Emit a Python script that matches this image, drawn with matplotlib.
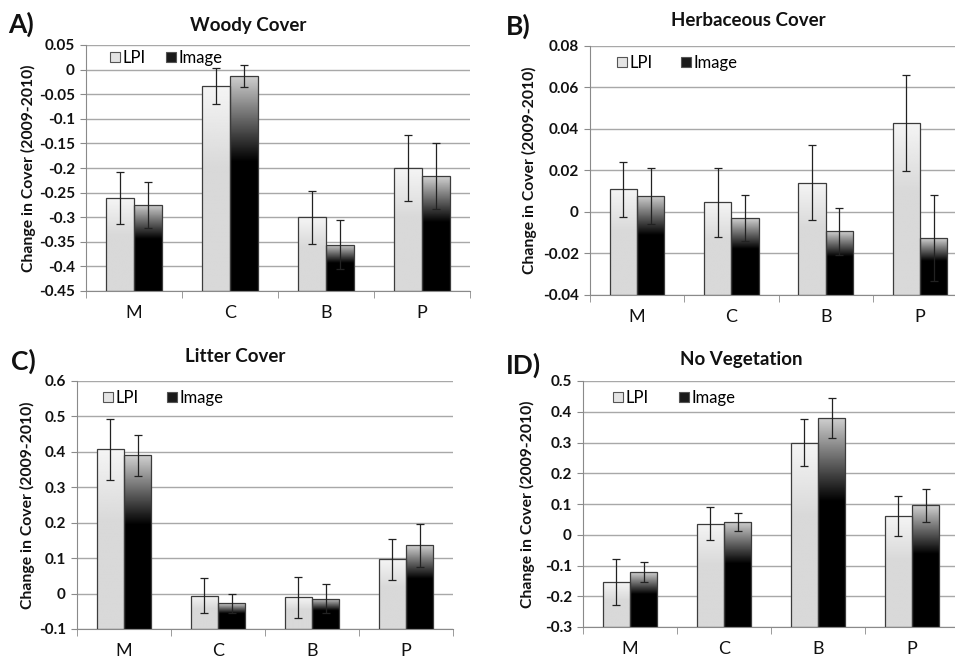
import numpy as np
import matplotlib
matplotlib.use("Agg")
import matplotlib.pyplot as plt
from matplotlib.patches import Patch

plt.rcParams['font.family'] = ['Lato', 'DejaVu Sans']

categories = ["M", "C", "B", "P"]
series_names = ["LPI", "Image"]

woody_lpi = [-0.261, -0.033, -0.300, -0.200]
woody_lpi_err = [0.053, 0.037, 0.054, 0.067]
woody_img = [-0.275, -0.013, -0.356, -0.217]
woody_img_err = [0.047, 0.022, 0.050, 0.067]

herb_lpi = [0.0109, 0.0046, 0.0141, 0.0430]
herb_lpi_err = [0.0131, 0.0166, 0.0181, 0.0231]
herb_img = [0.0078, -0.0031, -0.0092, -0.0127]
herb_img_err = [0.0135, 0.0111, 0.0113, 0.0207]

litter_lpi = [0.407, -0.006, -0.010, 0.097]
litter_lpi_err = [0.087, 0.050, 0.058, 0.058]
litter_img = [0.390, -0.027, -0.0145, 0.136]
litter_img_err = [0.0575, 0.027, 0.041, 0.0605]

nov_lpi = [-0.154, 0.0362, 0.299, 0.061]
nov_lpi_err = [0.075, 0.053, 0.077, 0.066]
nov_img = [-0.1216, 0.0427, 0.380, 0.0957]
nov_img_err = [0.0335, 0.029, 0.066, 0.053]

W, H = 955, 657

panels = [
    dict(label="A)", title="Woody Cover", lpi=woody_lpi, lpie=woody_lpi_err,
         img=woody_img, imge=woody_img_err, ylim=(-0.45, 0.05),
         ticks=["0.05", "0", "-0.05", "-0.1", "-0.15", "-0.2", "-0.25", "-0.3", "-0.35", "-0.4", "-0.45"],
         px=(86, 470, 45, 291), lab=(8, 12), title_y=25, ylab_x=36, leg_x=110, leg_y=50, colsp=1.25),
    dict(label="B)", title="Herbaceous Cover", lpi=herb_lpi, lpie=herb_lpi_err,
         img=herb_img, imge=herb_img_err, ylim=(-0.04, 0.08),
         ticks=["0.08", "0.06", "0.04", "0.02", "0", "-0.02", "-0.04"],
         px=(590, 967, 46, 295), lab=(506, 14), title_y=21, ylab_x=537, leg_x=617, leg_y=55, colsp=1.7),
    dict(label="C)", title="Litter Cover", lpi=litter_lpi, lpie=litter_lpi_err,
         img=litter_img, imge=litter_img_err, ylim=(-0.1, 0.6),
         ticks=["0.6", "0.5", "0.4", "0.3", "0.2", "0.1", "0", "-0.1"],
         px=(77, 453, 381, 629), lab=(11, 349), title_y=356, ylab_x=35, leg_x=103, leg_y=390, colsp=1.7),
    dict(label="ID)", title="No Vegetation", lpi=nov_lpi, lpie=nov_lpi_err,
         img=nov_img, imge=nov_img_err, ylim=(-0.3, 0.5),
         ticks=["0.5", "0.4", "0.3", "0.2", "0.1", "0", "-0.1", "-0.2", "-0.3"],
         px=(583, 959, 381, 627), lab=(506, 353), title_y=359, ylab_x=535, leg_x=613, leg_y=390, colsp=1.8),
]

fig = plt.figure(figsize=(W / 100, H / 100), dpi=100)


def gradient_column(kind):
    t = np.linspace(0, 1, 256)  # bottom -> top
    if kind == "lpi":
        lo, hi = 0.85, 0.96
    else:
        lo, hi = 0.0, 0.82
    frac = np.clip((t - 0.6) / 0.4, 0, 1)
    v = lo + (hi - lo) * frac
    return v[::-1].reshape(-1, 1)


width = 0.29
for p in panels:
    l, r, t, b = p["px"]
    ax = fig.add_axes([l / W, 1 - b / H, (r - l) / W, (b - t) / H])
    ymin, ymax = p["ylim"]
    x = np.arange(len(categories)) + 0.5
    for vals, errs, off, kind in [(p["lpi"], p["lpie"], -width/2, "lpi"),
                                   (p["img"], p["imge"], width/2, "img")]:
        heights = np.array(vals) - ymin
        bars = ax.bar(x + off, heights, width=width, bottom=ymin, facecolor="none",
                      edgecolor="#3c3c3c", linewidth=0.9, zorder=3)
        grad = gradient_column(kind)
        for bar in bars:
            x0, y0 = bar.get_x(), bar.get_y()
            im = ax.imshow(grad, cmap="gray", vmin=0, vmax=1, aspect="auto",
                           interpolation="bilinear",
                           extent=[x0, x0 + bar.get_width(), y0, y0 + bar.get_height()],
                           zorder=2)
            im.set_clip_path(bar)
        ax.errorbar(x + off, vals, yerr=errs, fmt="none", ecolor="#222222",
                    elinewidth=0.9, capsize=3, capthick=0.9, zorder=4)
    ax.set_xlim(0, len(categories))
    ax.set_ylim(ymin, ymax)
    n = len(p["ticks"])
    tick_vals = np.linspace(ymax, ymin, n)
    ax.set_yticks(tick_vals)
    ax.set_yticklabels(p["ticks"], fontsize=11, fontweight="bold", color="#111111")
    ax.set_xticks(x)
    ax.set_xticklabels(categories, fontsize=13, color="#111111")
    ax.set_xticks(np.arange(len(categories) + 1), minor=True)
    ax.tick_params(axis="x", which="major", length=0, pad=10)
    ax.tick_params(axis="x", which="minor", length=5, color="#8a8a8a", direction="out")
    ax.tick_params(axis="y", length=4, color="#8a8a8a", pad=4)
    ax.yaxis.grid(True, color="#a8a8a8", linewidth=1.0, zorder=0)
    ax.set_axisbelow(True)
    for s in ["top", "right"]:
        ax.spines[s].set_visible(False)
    ax.spines["left"].set_color("#8a8a8a")
    ax.spines["bottom"].set_color("#8a8a8a")
    ax.set_ylabel("Change in Cover (2009-2010)", fontsize=11.3, fontweight="bold",
                  color="#111111")
    ax.yaxis.set_label_coords((p["ylab_x"] - l) / (r - l), 0.5)
    tx = (l + r) / 2 - 30
    fig.text(tx / W, 1 - p["title_y"] / H, p["title"], fontsize=13.5, fontweight="bold",
             color="#111111", ha="center", va="center")
    handles = [Patch(facecolor="#e4e4e4", edgecolor="#555555", linewidth=0.8),
               Patch(facecolor="#1a1a1a", edgecolor="#555555", linewidth=0.8)]
    ax.legend(handles, series_names, loc="upper left",
              bbox_to_anchor=((p["leg_x"] - l) / (r - l), 1 - (p["leg_y"] - t) / (b - t)),
              ncol=2, frameon=False, fontsize=12, handlelength=0.6, handleheight=0.6,
              handletextpad=0.15, columnspacing=p["colsp"], borderaxespad=0.0, borderpad=0.0)
    fig.text(p["lab"][0] / W, 1 - p["lab"][1] / H, p["label"], fontsize=19,
             fontweight="bold", color="#111111", ha="left", va="top")

fig.savefig("out.png", dpi=100)
